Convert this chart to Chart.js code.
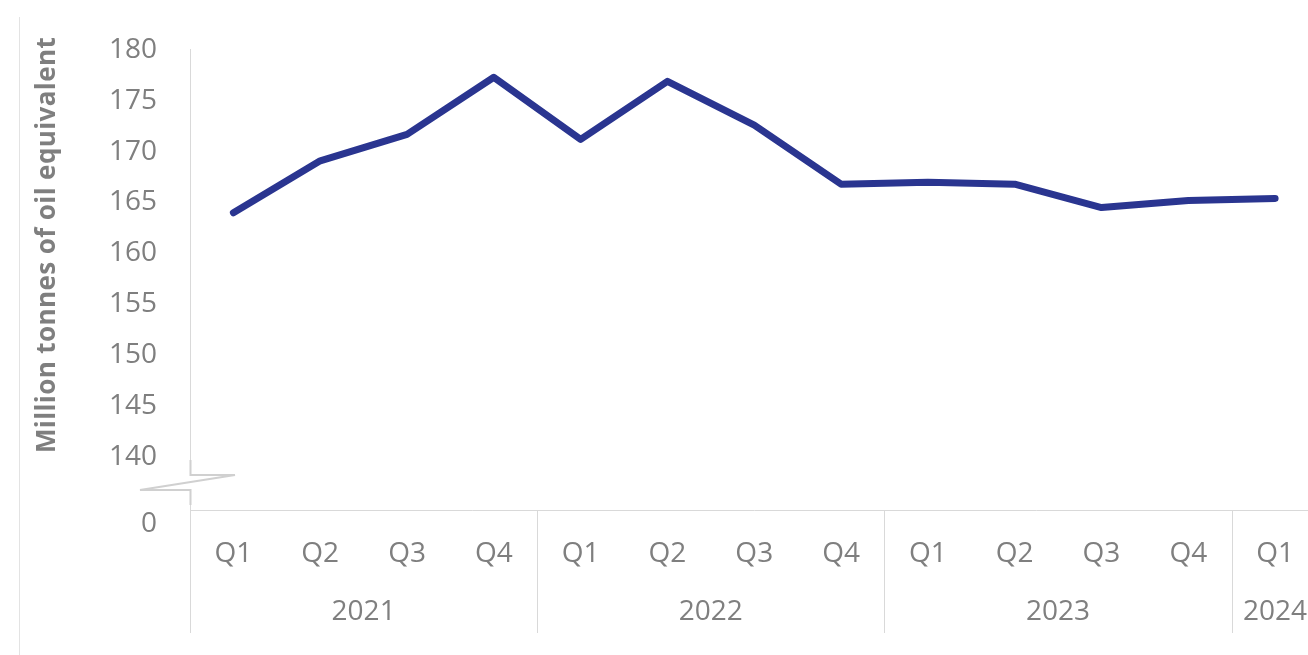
<!DOCTYPE html>
<html>
<head>
<meta charset="utf-8">
<script src="https://cdn.jsdelivr.net/npm/chart.js@4.4.1/dist/chart.umd.min.js"></script>
<style>
  html, body { margin: 0; padding: 0; background: #fff; overflow: hidden; }
</style>
</head>
<body>
<canvas id="myChart" width="1321" height="655"></canvas>
<script>
'use strict';

let chartCanvas = document.getElementById('myChart');

// quarters along the bottom, and the year each group of quarters belongs to
const quarters = ['Q1', 'Q2', 'Q3', 'Q4', 'Q1', 'Q2', 'Q3', 'Q4', 'Q1', 'Q2', 'Q3', 'Q4', 'Q1'];
const years = ['2021', '2022', '2023', '2024'];
const quartersPerYear = [4, 4, 4, 1];

// million tonnes of oil equivalent
const energyValues = [164.0, 169.1, 171.7, 177.3, 171.2, 176.9, 172.6, 166.8, 167.0, 166.8, 164.5, 165.2, 165.4];

const yTicks = [140, 145, 150, 155, 160, 165, 170, 175, 180];
const yBreakLabel = '0';
const yTitle = 'Million tonnes of oil equivalent';

let gray = '#7f7f7f';
let lineGray = '#d9d9d9';
let labelFont = '28px "Open Sans"';

// draws the year row, the axis break, the "0" and the axis title
let extrasPlugin = {
  id: 'extras',
  afterDraw(chart) {
    let ctx = chart.ctx;
    let area = chart.chartArea;
    let x = chart.scales.x;
    let bottom = 633;
    ctx.save();

    // outer frame line on the left
    ctx.strokeStyle = '#e3e3e3';
    ctx.lineWidth = 1;
    ctx.beginPath();
    ctx.moveTo(19.5, 17);
    ctx.lineTo(19.5, 655);
    ctx.stroke();

    // y axis carried down through the category rows
    ctx.strokeStyle = lineGray;
    ctx.beginPath();
    ctx.moveTo(area.left + 0.5, area.bottom);
    ctx.lineTo(area.left + 0.5, bottom);
    ctx.stroke();

    // year separators and year labels
    ctx.fillStyle = gray;
    ctx.font = labelFont;
    ctx.textAlign = 'center';
    ctx.textBaseline = 'middle';
    let start = 0;
    for (let i = 0; i < years.length; i++) {
      let end = start + quartersPerYear[i];
      let left = x.getPixelForValue(start) - x.width / quarters.length / 2;
      let right = x.getPixelForValue(end - 1) + x.width / quarters.length / 2;
      if (i < years.length - 1) {
        ctx.beginPath();
        ctx.moveTo(Math.round(right) + 0.5, area.bottom);
        ctx.lineTo(Math.round(right) + 0.5, bottom);
        ctx.stroke();
      }
      ctx.fillText(years[i], (left + right) / 2, 612);
      start = end;
    }

    // axis break
    let ax = area.left + 0.5;
    ctx.fillStyle = '#fff';
    ctx.fillRect(area.left - 2, 476, 5, 13);
    ctx.strokeStyle = '#d0d0d0';
    ctx.lineWidth = 2;
    ctx.beginPath();
    ctx.moveTo(ax, 460);
    ctx.lineTo(ax, 475);
    ctx.lineTo(235, 475);
    ctx.lineTo(140, 490);
    ctx.lineTo(ax, 490);
    ctx.lineTo(ax, 505);
    ctx.stroke();

    ctx.fillStyle = gray;
    ctx.textAlign = 'right';
    ctx.fillText(yBreakLabel, 157, 524);

    // axis title
    ctx.translate(48, 245);
    ctx.rotate(-Math.PI / 2);
    ctx.font = 'bold 26px "Open Sans"';
    ctx.letterSpacing = '0.4px';
    ctx.textAlign = 'center';
    ctx.fillText(yTitle, 0, 0);
    ctx.restore();
  }
};

let chartObj = new Chart(chartCanvas, {
  type: 'line',
  data: {
    labels: quarters,
    datasets: [{
      label: yTitle,
      data: energyValues,
      borderColor: '#2a3590',
      borderWidth: 7,
      borderCapStyle: 'round',
      borderJoinStyle: 'round',
      pointRadius: 0,
      tension: 0
    }]
  },
  options: {
    responsive: false,
    animation: false,
    layout: {
      padding: { top: 48.5, left: 0, right: 0, bottom: 0 }
    },
    plugins: {
      legend: { display: false },
      tooltip: { enabled: false }
    },
    scales: {
      x: {
        offset: true,
        grid: { display: false, drawTicks: false },
        border: { color: lineGray, width: 1 },
        ticks: { color: gray, font: { family: 'Open Sans', size: 28 }, padding: 27, maxRotation: 0, autoSkip: false },
        afterFit(scale) {
          scale.height = 145;
        }
      },
      y: {
        min: 134.8,
        max: 180,
        grid: { display: false, drawTicks: false },
        border: { color: lineGray, width: 1 },
        ticks: { color: gray, font: { family: 'Open Sans', size: 28 }, padding: 33 },
        afterBuildTicks(scale) {
          scale.ticks = yTicks.map(v => ({ value: v }));
        },
        afterFit(scale) {
          scale.width = 190;
        }
      }
    }
  },
  plugins: [extrasPlugin]
});
</script>
</body>
</html>
